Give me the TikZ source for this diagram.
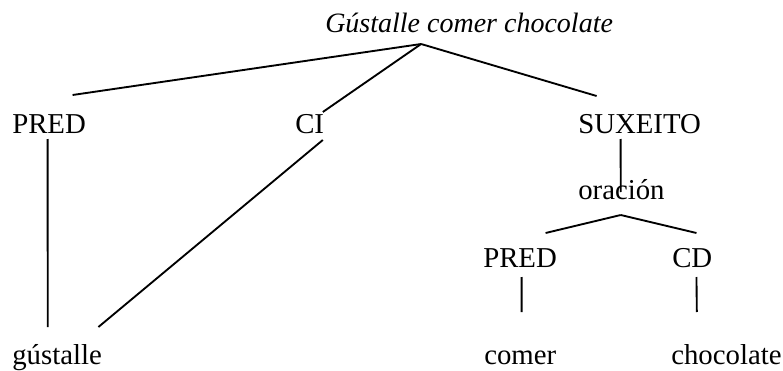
\documentclass[tikz,border=0pt]{standalone}
\usepackage{fontspec}
\setmainfont{Liberation Serif}
\usetikzlibrary{calc}

\tikzset{
  word/.style={anchor=base west, inner sep=0pt, font=\fontsize{21.6pt}{25pt}\selectfont},
  branch/.style={draw=black, line width=1.4pt},
}

\begin{document}
\begin{tikzpicture}[x=0.75pt, y=-0.75pt]
        \useasboundingbox (0,0) rectangle (783,371);
        %% frase completa arriba
        \node[word, font=\fontsize{21pt}{25pt}\selectfont\itshape] (frase) at (325,32) {Gústalle comer chocolate};
        
        \foreach \n/\x/\y/\t in
        {pred/12/133/PRED,
            ci/295/133/CI,
            suxeito/578/133/SUXEITO,
            oracion/578/199/oración,
            predb/483/267/PRED,
            cd/672/267/CD,
            gustalle/12/364/gústalle,
            comer/484/364/comer,
            chocolate/671/364/chocolate
        }
        {
            \node[word] (\n) at (\x,\y) {\t};
        };
        
        \coordinate (topo) at ([shift={(-48,12)}]frase.base);
        \coordinate (nodo) at ([shift={(-0.7,16)}]oracion.base);
        
        \draw[branch] (topo) -- ([shift={(23.5,-38)}]pred.base);
        \draw[branch] (topo) -- ([shift={(-1.5,-21)}]ci.base east);
        \draw[branch] (topo) -- ([shift={(-43,-37)}]suxeito.base);
        \draw[branch] ([shift={(-1.5,6)}]pred.base) -- ([shift={(-9.3,-37)}]gustalle.base);
        \draw[branch] ([shift={(-1.5,7)}]ci.base east) -- ([shift={(-3.7,-37)}]gustalle.base east);
        \draw[branch] ([shift={(-19,6)}]suxeito.base) -- ([shift={(-0.7,-7)}]oracion.base);
        \draw[branch] (nodo) -- ([shift={(25.5,-34)}]predb.base);
        \draw[branch] (nodo) -- ([shift={(4.2,-34)}]cd.base);
        \draw[branch] ([shift={(1.5,10)}]predb.base) -- ([shift={(1.4,-52)}]comer.base);
        \draw[branch] ([shift={(4.2,10)}]cd.base) -- ([shift={(-29.6,-52)}]chocolate.base);
\end{tikzpicture}
\end{document}
